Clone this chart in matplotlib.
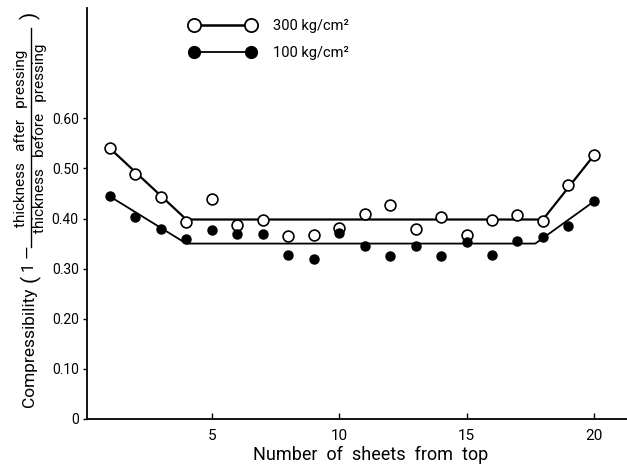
import matplotlib
matplotlib.use("Agg")
import matplotlib.pyplot as plt
from matplotlib.lines import Line2D

plt.rcParams["font.family"] = ["Roboto", "DejaVu Sans"]

# sheet number (1 = top sheet)
sheets = list(range(1, 21))

# measured compressibility, 300 kg/cm2
comp_300 = [0.540, 0.488, 0.442, 0.394, 0.438, 0.388, 0.398, 0.366, 0.368, 0.382,
            0.410, 0.426, 0.380, 0.404, 0.368, 0.398, 0.408, 0.396, 0.466, 0.526]
# measured compressibility, 100 kg/cm2
comp_100 = [0.444, 0.404, 0.380, 0.360, 0.378, 0.370, 0.370, 0.328, 0.320, 0.372,
            0.346, 0.326, 0.346, 0.326, 0.354, 0.328, 0.356, 0.364, 0.386, 0.434]

# hand-drawn trend lines (break points)
trend_300_x = [1, 4, 18, 20]
trend_300_y = [0.540, 0.398, 0.398, 0.526]
trend_100_x = [1, 4, 17.7, 20]
trend_100_y = [0.444, 0.350, 0.350, 0.434]

yticks = [0, 0.10, 0.20, 0.30, 0.40, 0.50, 0.60]
ytick_labels = ["0", "0.10", "0.20", "0.30", "0.40", "0.50", "0.60"]
xticks = [5, 10, 15, 20]
legend_labels = ["300 kg/cm²", "100 kg/cm²"]

W, H = 627, 470
fig = plt.figure(figsize=(W / 100, H / 100), dpi=100)
ax = fig.add_axes([87 / W, 1 - 419 / H, 540 / W, 411 / H])

ax.plot(trend_300_x, trend_300_y, color="black", lw=1.6, zorder=2)
ax.plot(trend_100_x, trend_100_y, color="black", lw=1.3, zorder=2)
ax.plot(sheets, comp_300, ls="none", marker="o", ms=7.8, mfc="white",
        mec="black", mew=1.2, zorder=3)
ax.plot(sheets, comp_100, ls="none", marker="o", ms=6.5, mfc="black",
        mec="black", mew=1.0, zorder=3)

ax.set_xlim(0.1, 21.3)
ax.set_ylim(0, 0.82)
ax.set_xticks(xticks)
ax.set_xticklabels([str(t) for t in xticks], fontsize=11)
ax.set_yticks(yticks)
ax.set_yticklabels(ytick_labels, fontsize=10)
ax.tick_params(axis="x", direction="in", length=4, width=1, pad=7)
ax.tick_params(axis="y", direction="out", length=3, width=1, pad=3)
for side in ("top", "right"):
    ax.spines[side].set_visible(False)
for side in ("left", "bottom"):
    ax.spines[side].set_linewidth(1.3)


def px(x, y):
    # pixel position (from top-left) -> figure fraction
    return x / W, 1 - y / H


fig.text(*px(371, 455), "Number  of  sheets  from  top", ha="center", va="center",
         fontsize=13)

# y label: Compressibility (1 - after / before), built from pieces
fig.text(*px(29, 347), "Compressibility", rotation=90, ha="center", va="center",
         fontsize=12.5)
fig.text(*px(30, 278), "(", rotation=90, ha="center", va="center", fontsize=15)
fig.text(*px(29, 259), "1 \u2014", rotation=90, ha="center", va="center",
         fontsize=12)
fig.text(*px(21, 138), "thickness   after   pressing", rotation=90, ha="center",
         va="center", fontsize=11)
fig.text(*px(40, 138), "thickness   before   pressing", rotation=90, ha="center",
         va="center", fontsize=11)
fig.add_artist(Line2D([30.5 / W, 30.5 / W], [1 - 247 / H, 1 - 28 / H], color="black",
                      lw=1.0, transform=fig.transFigure))
fig.text(*px(30, 15), ")", rotation=90, ha="center", va="center", fontsize=15)

handles = [
    Line2D([], [], color="black", lw=1.8, marker="o", ms=9.5, mfc="white", mec="black", mew=1.3),
    Line2D([], [], color="black", lw=1.3, marker="o", ms=8.5, mfc="black", mec="black"),
]
ax.legend(handles, legend_labels, numpoints=2, frameon=False,
          loc="upper left", bbox_to_anchor=px(190, 19), bbox_transform=fig.transFigure,
          borderpad=0, borderaxespad=0, handlelength=4.5, handletextpad=1.2,
          labelspacing=0.9, fontsize=10.5)

fig.savefig("out.png", dpi=100)
